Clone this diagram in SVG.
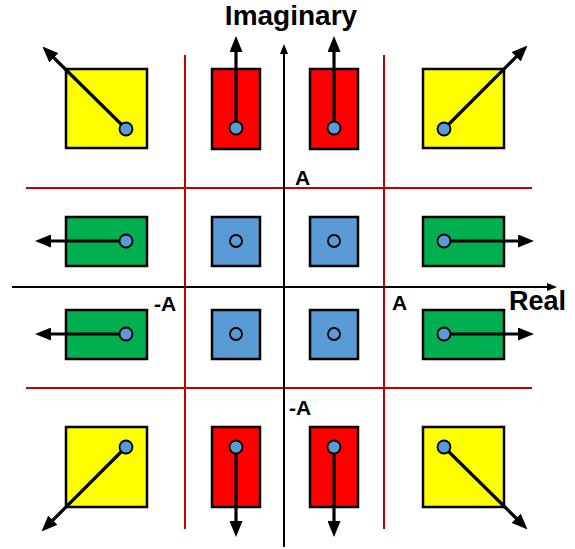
<svg xmlns="http://www.w3.org/2000/svg" width="575" height="549" viewBox="0 0 575 549">
<style>
.box{stroke:#000;stroke-width:2.5}
.y{fill:#FFFF00}.r{fill:#FF0000}.g{fill:#00B050}.b{fill:#5B9BD5}
.dot{fill:#5B9BD5;stroke:#000;stroke-width:1.8}
.ring{fill:none;stroke:#000;stroke-width:1.8}
.vec{stroke:#000;stroke-width:3.2;fill:none;marker-end:url(#ah)}
.axis{stroke:#000;stroke-width:2;fill:none;marker-end:url(#ax)}
.thr{stroke:#C00000;stroke-width:2;fill:none}
text{font-family:"Liberation Sans",Arial,sans-serif;font-weight:bold;fill:#000}
</style>
<defs>
<marker id="ah" markerUnits="userSpaceOnUse" viewBox="0 0 16 13" markerWidth="16" markerHeight="13" refX="4" refY="6.5" orient="auto">
<path d="M0,0 L16,6.5 L0,13 z" fill="#000"/>
</marker>
<marker id="ax" markerUnits="userSpaceOnUse" viewBox="0 0 10 8" markerWidth="10" markerHeight="8" refX="3" refY="4" orient="auto">
<path d="M0,0 L10,4 L0,8 z" fill="#000"/>
</marker>
</defs>
<g id="thresholds">
<line class="thr" x1="185" y1="55" x2="185" y2="529"/>
<line class="thr" x1="384" y1="55" x2="384" y2="529"/>
<line class="thr" x1="26" y1="188" x2="532" y2="188"/>
<line class="thr" x1="26" y1="388" x2="532" y2="388"/>
</g>
<g id="axes">
<line class="axis" x1="284" y1="547" x2="284" y2="51"/>
<line class="axis" x1="12" y1="287" x2="550" y2="287"/>
</g>
<g id="labels">
<text x="291" y="25" font-size="28" text-anchor="middle">Imaginary</text>
<text x="509" y="310" font-size="27">Real</text>
<text x="295" y="185" font-size="21">A</text>
<text x="154" y="311" font-size="21">-A</text>
<text x="392" y="310" font-size="21">A</text>
<text x="289" y="415" font-size="21">-A</text>
</g>
<g id="n-tl"><rect class="box y" x="66" y="69" width="81" height="79"/></g>
<g id="n-tr"><rect class="box y" x="423" y="69" width="81" height="79"/></g>
<g id="n-bl"><rect class="box y" x="66" y="427" width="81" height="80"/></g>
<g id="n-br"><rect class="box y" x="423" y="427" width="81" height="80"/></g>
<g id="n-t1"><rect class="box r" x="212" y="69" width="48" height="80"/></g>
<g id="n-t2"><rect class="box r" x="310" y="69" width="48" height="80"/></g>
<g id="n-b1"><rect class="box r" x="212" y="427" width="48" height="80"/></g>
<g id="n-b2"><rect class="box r" x="310" y="427" width="48" height="80"/></g>
<g id="n-l1"><rect class="box g" x="66" y="217" width="81" height="49"/></g>
<g id="n-l2"><rect class="box g" x="66" y="310" width="81" height="49"/></g>
<g id="n-r1"><rect class="box g" x="423" y="217" width="81" height="49"/></g>
<g id="n-r2"><rect class="box g" x="423" y="310" width="81" height="49"/></g>
<g id="n-c1"><rect class="box b" x="212" y="217" width="48" height="49"/><circle class="ring" cx="236" cy="241" r="6"/></g>
<g id="n-c2"><rect class="box b" x="310" y="217" width="48" height="49"/><circle class="ring" cx="334" cy="241" r="6"/></g>
<g id="n-c3"><rect class="box b" x="212" y="310" width="48" height="49"/><circle class="ring" cx="236" cy="334" r="6"/></g>
<g id="n-c4"><rect class="box b" x="310" y="310" width="48" height="49"/><circle class="ring" cx="334" cy="334" r="6"/></g>
<g id="connectors">
<line class="vec" x1="126" y1="129" x2="51" y2="55"/>
<line class="vec" x1="444" y1="129" x2="519" y2="54"/>
<line class="vec" x1="126" y1="447" x2="50" y2="523"/>
<line class="vec" x1="444" y1="447" x2="519" y2="521"/>
<line class="vec" x1="236" y1="128" x2="236" y2="48"/>
<line class="vec" x1="334" y1="128" x2="334" y2="48"/>
<line class="vec" x1="236" y1="447" x2="236" y2="525"/>
<line class="vec" x1="334" y1="447" x2="334" y2="525"/>
<line class="vec" x1="126" y1="241" x2="47" y2="241"/>
<line class="vec" x1="126" y1="334" x2="47" y2="334"/>
<line class="vec" x1="444" y1="241" x2="522" y2="241"/>
<line class="vec" x1="444" y1="334" x2="522" y2="334"/>
</g>
<g id="dots">
<circle class="dot" cx="126" cy="129" r="6.5"/>
<circle class="dot" cx="444" cy="129" r="6.5"/>
<circle class="dot" cx="126" cy="447" r="6.5"/>
<circle class="dot" cx="444" cy="447" r="6.5"/>
<circle class="dot" cx="236" cy="128" r="6.5"/>
<circle class="dot" cx="334" cy="128" r="6.5"/>
<circle class="dot" cx="236" cy="447" r="6.5"/>
<circle class="dot" cx="334" cy="447" r="6.5"/>
<circle class="dot" cx="126" cy="241" r="6.5"/>
<circle class="dot" cx="126" cy="334" r="6.5"/>
<circle class="dot" cx="444" cy="241" r="6.5"/>
<circle class="dot" cx="444" cy="334" r="6.5"/>
</g>
</svg>
